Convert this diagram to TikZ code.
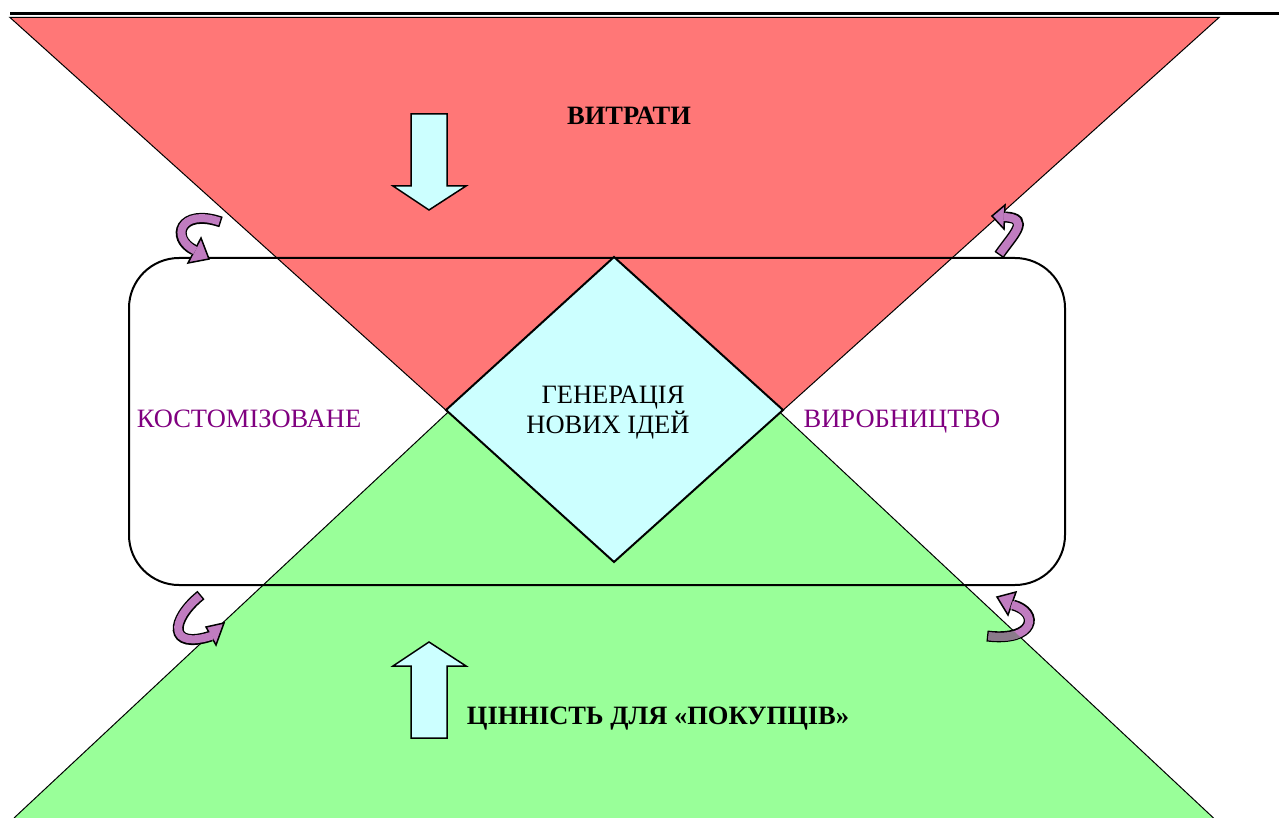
\documentclass[tikz,border=0pt]{standalone}
\usepackage{fontspec}
\setmainfont{Liberation Serif}
\definecolor{cred}{HTML}{FF7777}
\definecolor{cgreen}{HTML}{99FF99}
\definecolor{ccyan}{HTML}{CCFFFF}
\definecolor{cpurple}{HTML}{C07CC0}
\definecolor{ctext}{HTML}{800080}
\definecolor{cgray}{HTML}{8A7A8A}
\newcommand\myCurl[4]{%
  \draw[cbodyout] #1;
  \filldraw[chead] #2 -- #3 -- #4 -- cycle;
  \draw[cbodyin] #1;
}
\begin{document}
\begin{tikzpicture}[x=1pt,y=-1pt,
  tri/.style={draw=black, line width=1pt, line join=miter},
  lbl/.style={font=\fontsize{26.5}{30}\selectfont, inner sep=0pt, anchor=base},
  boldlbl/.style={lbl, font=\fontsize{26.5}{30}\selectfont\bfseries},
  purplelbl/.style={lbl, text=ctext},
  blockarrow/.style={draw=black, line width=1.5pt, fill=ccyan, line join=miter},
  cbodyout/.style={draw=black, line width=11pt},
  cbodyin/.style={draw=cpurple, line width=8pt, shorten <=1.5pt, shorten >=-1.5pt},
  chead/.style={fill=cpurple, draw=black, line width=1.5pt, line join=miter},
]
\useasboundingbox (0,0) rectangle (1279,818);
% top rule
\draw[line width=3pt] (10,13.5) -- (1279,13.5);
% red triangle
\fill[cred] (10,17.5) -- (1219,17.5) -- (614.5,562) -- cycle;
\draw[tri] (10,17.5) -- (1219,17.5) -- (614.5,562) -- cycle;
% green triangle
\fill[cgreen] (614,257) -- (1213.5,818) -- (14,818) -- cycle;
\draw[tri] (14,818) -- (614,257) -- (1213.5,818);
% rounded rectangle
\draw[line width=2pt, rounded corners=50pt] (129,258) rectangle (1065,585);
% diamond
\filldraw[fill=ccyan, draw=black, line width=2pt, line join=miter]
  (614,257) -- (783,410) -- (614,562) -- (446,410) -- cycle;
% block arrows
\filldraw[blockarrow] (411,114) -- (447,114) -- (447,186) -- (466,186)
  -- (429,210) -- (393,186) -- (411,186) -- cycle;
\filldraw[blockarrow] (411,738) -- (447,738) -- (447,666) -- (466,666)
  -- (429,642) -- (393,666) -- (411,666) -- cycle;
% curved arrows
\myCurl{(221,222) .. controls (180,208) and (170,238) .. (194,250)}{(209,259)}{(201,238)}{(188,263)}
\myCurl{(999,255) .. controls (1012,236) and (1032,218) .. (1005,217)}{(992,216)}{(1005,205)}{(1004,229)}
\myCurl{(201,595) .. controls (170,620) and (168,650) .. (211,636)}{(224,623)}{(206,627)}{(216,645)}
\myCurl{(987,636) .. controls (1035,642) and (1040,612) .. (1013,605)}{(997,597)}{(1016,592)}{(1008,615)}
\begin{scope}
  \clip (614,257) -- (1213.5,818) -- (14,818) -- cycle;
  \draw[draw=cgray, line width=8pt, shorten <=1.5pt]
    (987,636) .. controls (1035,642) and (1040,612) .. (1013,605);
\end{scope}
% labels
\node[boldlbl] (costs) at (629,124.5) {ВИТРАТИ};
\node[boldlbl] (value) at (658,724) {ЦІННІСТЬ ДЛЯ «ПОКУПЦІВ»};
\node[purplelbl] (cust) at (249,427) {КОСТОМІЗОВАНЕ};
\node[purplelbl] (prod) at (902,427) {ВИРОБНИЦТВО};
\node[lbl] (gen1) at (613,403) {ГЕНЕРАЦІЯ};
\node[lbl] (gen2) at (608,433) {НОВИХ ІДЕЙ};
\end{tikzpicture}
\end{document}
